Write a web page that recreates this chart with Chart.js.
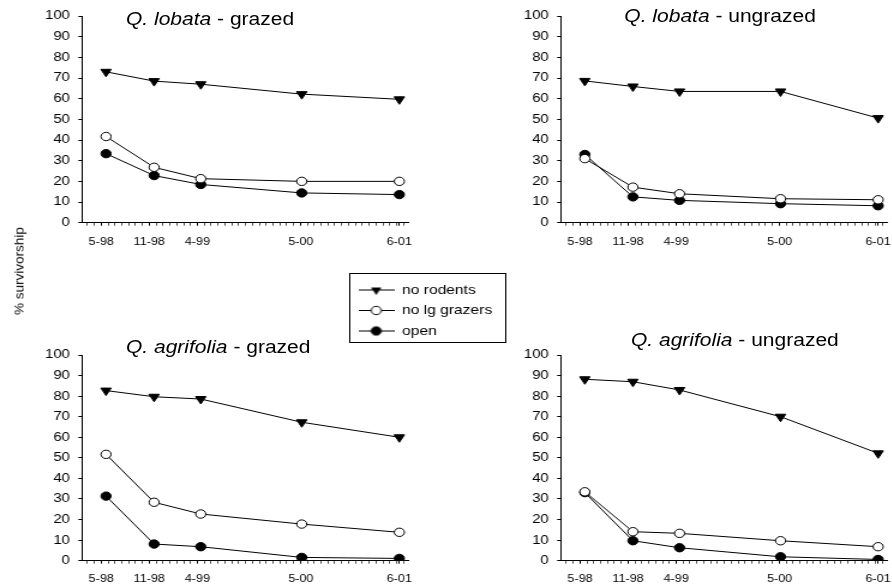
<!DOCTYPE html>
<html>
<head>
<meta charset="utf-8">
<script src="https://cdn.jsdelivr.net/npm/chart.js@4/dist/chart.umd.min.js"></script>
<style>
  html, body { margin: 0; padding: 0; background: #fff; overflow: hidden; }
  /* the source figure is about 1.2x wider than tall-for-tall, so stretch the whole panel block */
  #fig { position: absolute; left: 0; top: 0; width: 744px; height: 587px; transform: scaleX(1.2); transform-origin: 0 0;
         font-family: 'Liberation Sans', Arial, sans-serif; color: #000; }
  #fig canvas { position: absolute; }
  .ttl { position: absolute; font-size: 17.5px; line-height: 1; white-space: nowrap; }
  #legendBox { position: absolute; left: 290.8px; top: 273px; width: 129px; height: 68px; border: 1px solid #000; }
  #ylab { position: absolute; left: 18.5px; top: 271px; transform: translate(-50%, -50%) rotate(-90deg);
          font: 13.5px 'Liberation Sans', Arial, sans-serif; white-space: nowrap; color: #000; }
</style>
</head>
<body>
<div id="fig">
  <div id="legendBox"></div>
  <canvas id="c1" width="350" height="260" style="left:0;top:0"></canvas>
  <canvas id="c2" width="350" height="260" style="left:398.95px;top:0"></canvas>
  <canvas id="c3" width="350" height="257" style="left:0;top:330px"></canvas>
  <canvas id="c4" width="350" height="257" style="left:398.95px;top:330px"></canvas>
  <canvas id="leg" width="131" height="90" style="left:290.8px;top:273px"></canvas>
  <div class="ttl" style="left:105px;top:11px"><i>Q. lobata</i> - grazed</div>
  <div class="ttl" style="left:520.3px;top:8px"><i>Q. lobata</i> - ungrazed</div>
  <div class="ttl" style="left:105px;top:338.7px"><i>Q. agrifolia</i> - grazed</div>
  <div class="ttl" style="left:525.8px;top:332.2px"><i>Q. agrifolia</i> - ungrazed</div>
</div>
<div id="ylab">% survivorship</div>

<script>
// 조사 시점 (x축 눈금)
const tickDates = ['5-98', '11-98', '4-99', '5-00', '6-01'];
const tickPos = [0, 1, 2, 4.15, 6.2];
// 실제 조사 위치 (눈금보다 약간 오른쪽)
const samplePos = [0.1, 1.1, 2.07, 4.17, 6.2];

const seriesNames = ['no rodents', 'no lg grazers', 'open'];

// Q. lobata - grazed
const lobGrazRodents = [73, 68.5, 67, 62.2, 59.7];
const lobGrazLgGrazers = [41.7, 26.8, 21.3, 20, 20];
const lobGrazOpen = [33.4, 22.8, 18.5, 14.4, 13.6];
// Q. lobata - ungrazed
const lobUngRodents = [68.6, 65.9, 63.5, 63.5, 50.6];
const lobUngLgGrazers = [31, 17.2, 14, 11.6, 11.1];
const lobUngOpen = [33, 12.5, 10.8, 9.2, 8.2];
// Q. agrifolia - grazed
const agrGrazRodents = [82.7, 79.7, 78.6, 67.3, 60];
const agrGrazLgGrazers = [51.7, 28.4, 22.7, 17.8, 13.8];
const agrGrazOpen = [31.4, 8.1, 6.8, 1.6, 1.1];
// Q. agrifolia - ungrazed
const agrUngRodents = [88.2, 87, 83, 70, 52.2];
const agrUngLgGrazers = [33.5, 14.1, 13.3, 9.7, 6.8];
const agrUngOpen = [33.1, 9.7, 6.3, 1.9, 0.6];

Chart.defaults.font.family = "'Liberation Sans', Arial, sans-serif";
Chart.defaults.color = '#000';

// 주 눈금 + 보조 눈금
function xTicks() {
    const ticks = tickPos.map(v => ({ value: v }));
    for (let k = -2; k <= 44; k++) {
        const v = k / 7;
        if (!tickPos.some(p => Math.abs(p - v) < 0.05)) ticks.push({ value: v });
    }
    return ticks.sort((a, b) => a.value - b.value);
}

function series(label, values, style, fill, radius, rotation) {
    return {
        label: label,
        data: samplePos.map((x, i) => ({ x: x, y: values[i] })),
        borderColor: '#000',
        borderWidth: 1,
        tension: 0,
        fill: false,
        pointStyle: style,
        pointRadius: radius,
        pointRotation: rotation,
        pointBackgroundColor: fill,
        pointBorderColor: '#000',
        pointBorderWidth: 1
    };
}

function makePanel(id, rodents, lgGrazers, open, padTop, axisBottom, labelPad) {
    const canvas = document.getElementById(id);
    const H = canvas.height;
    new Chart(canvas, {
        type: 'line',
        data: {
            datasets: [
                series(seriesNames[0], rodents, 'triangle', '#000', 5, 180),
                series(seriesNames[1], lgGrazers, 'circle', '#fff', 4.2, 0),
                series(seriesNames[2], open, 'circle', '#000', 4.2, 0)
            ]
        },
        options: {
            responsive: false,
            animation: false,
            events: [],
            layout: { padding: { top: padTop, right: 10, left: 0, bottom: 0 } },
            plugins: { legend: { display: false }, tooltip: { enabled: false } },
            scales: {
                x: {
                    type: 'linear',
                    min: -0.4,
                    max: 6.38,
                    afterFit: s => { s.height = H - axisBottom; },
                    afterBuildTicks: s => { s.ticks = xTicks(); },
                    grid: {
                        drawOnChartArea: false,
                        tickLength: 3,
                        tickColor: c => (c.tick && tickPos.includes(c.tick.value)) ? '#000' : '#555'
                    },
                    border: { color: '#000', width: 1 },
                    ticks: {
                        autoSkip: false,
                        maxRotation: 0,
                        padding: labelPad,
                        font: { size: 10.5 },
                        color: '#000',
                        callback: v => {
                            const i = tickPos.indexOf(v);
                            return i >= 0 ? tickDates[i] : '';
                        }
                    }
                },
                y: {
                    min: 0,
                    max: 100,
                    afterFit: s => { s.width = 68.3; },
                    grid: { drawOnChartArea: false, tickLength: 3, tickColor: '#000' },
                    border: { color: '#000', width: 1 },
                    ticks: { stepSize: 10, padding: 7, font: { size: 12.5 }, color: '#000' }
                }
            }
        }
    });
}

makePanel('c1', lobGrazRodents, lobGrazLgGrazers, lobGrazOpen, 16, 222.7, 10.5);
makePanel('c2', lobUngRodents, lobUngLgGrazers, lobUngOpen, 16, 222.7, 10.5);
makePanel('c3', agrGrazRodents, agrGrazLgGrazers, agrGrazOpen, 25, 230.7, 8.7);
makePanel('c4', agrUngRodents, agrUngLgGrazers, agrUngOpen, 25, 230.7, 8.7);

// 범례 아이콘 (선 + 기호)
function makeIcon(kind) {
    const c = document.createElement('canvas');
    c.width = 30;
    c.height = 13;
    const g = c.getContext('2d');
    g.fillStyle = '#000';
    g.fillRect(0, 6, 30, 1);
    const cx = 15, cy = 6.5;
    g.beginPath();
    if (kind === 'triangle') {
        const r = 5;
        g.moveTo(cx, cy + r);
        g.lineTo(cx - r * 0.866, cy - r / 2);
        g.lineTo(cx + r * 0.866, cy - r / 2);
        g.closePath();
        g.fill();
    } else {
        g.arc(cx, cy, 4.2, 0, Math.PI * 2);
        g.fillStyle = kind === 'open' ? '#fff' : '#000';
        g.fill();
        g.lineWidth = 1;
        g.strokeStyle = '#000';
        g.stroke();
    }
    return c;
}
const legendIcons = [makeIcon('triangle'), makeIcon('open'), makeIcon('filled')];

new Chart(document.getElementById('leg'), {
    type: 'line',
    data: { datasets: seriesNames.map(n => ({ label: n, data: [] })) },
    options: {
        responsive: false,
        animation: false,
        events: [],
        layout: { padding: { top: 3, left: 0, right: 0, bottom: 0 } },
        scales: { x: { display: false }, y: { display: false } },
        plugins: {
            tooltip: { enabled: false },
            legend: {
                position: 'left',
                align: 'start',
                maxWidth: 131,
                labels: {
                    usePointStyle: true,
                    pointStyleWidth: 30,
                    padding: 7.5,
                    font: { size: 13 },
                    color: '#000',
                    generateLabels: chart => chart.data.datasets.map((ds, i) => ({
                        text: ds.label,
                        pointStyle: legendIcons[i],
                        fillStyle: '#000',
                        strokeStyle: '#000',
                        lineWidth: 0,
                        hidden: false,
                        datasetIndex: i,
                        fontColor: '#000'
                    }))
                }
            }
        }
    }
});
</script>
</body>
</html>
